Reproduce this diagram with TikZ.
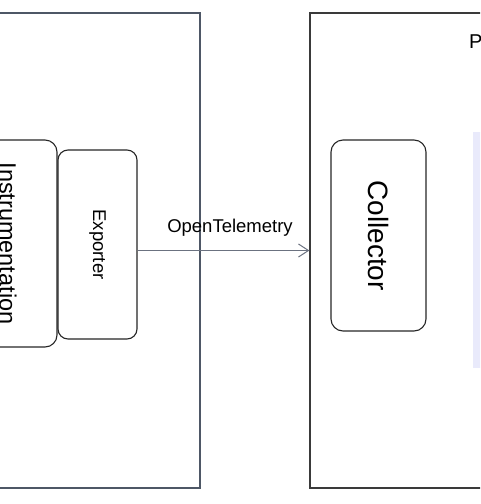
\documentclass[tikz,border=0pt]{standalone}
\usepackage{fontspec}
\setmainfont{Liberation Sans}
\usetikzlibrary{arrows.meta}
\definecolor{slate}{HTML}{4E5766}
\definecolor{dark}{HTML}{3A3A3A}
\definecolor{lav}{HTML}{E9EAFB}
\definecolor{arrgray}{HTML}{6B7280}
\tikzset{
  frame/.style={draw, line width=1.2pt, minimum width=#1},
  rbox/.style={draw=black!85, line width=1.1pt, rounded corners=12pt, inner sep=0pt},
  conn/.style={draw=arrgray, line width=1pt, -{Straight Barb[length=10pt,width=13pt,line width=1pt]}}
}
\begin{document}
\begin{tikzpicture}[x=1pt,y=-1pt]
\useasboundingbox (0,0) rectangle (480,504);
\clip (0,0) rectangle (480,504);
% big containers
\node[draw=slate, line width=1.2pt, minimum width=400pt, minimum height=475pt, inner sep=0pt] (lbox) at (0,250.5) {};
\node[draw=dark, line width=1.2pt, minimum width=380pt, minimum height=475pt, inner sep=0pt] (rbox) at (500,250.5) {};
% lavender panel
\node[fill=lav, minimum width=40pt, minimum height=236pt, inner sep=0pt, anchor=north west] (panel) at (473,132) {};
% title fragment
\node[anchor=base west, inner sep=0pt, font=\fontsize{20}{24}\selectfont] (ptitle) at (469,48) {P};
% inner boxes
\node[rbox, minimum width=98pt, minimum height=207pt] (inst) at (8,243.5)
  {\fontsize{23.5}{28}\selectfont\rotatebox{-90}{Instrumentation}};
\node[rbox, rounded corners=10pt, fill=white, minimum width=79pt, minimum height=189pt] (exp) at (97.5,244.5)
  {\fontsize{18.5}{22}\selectfont\rotatebox{-90}{Exporter}};
\node[rbox, minimum width=95pt, minimum height=191pt] (coll) at (378.5,235.5)
  {\fontsize{28}{33}\selectfont\rotatebox{-90}{Collector}};
% connector
\draw[conn] (exp.east |- rbox.west) -- (rbox.west)
  node[midway, anchor=south, inner sep=0pt, xshift=6.5pt, yshift=14pt, font=\fontsize{18.5}{22}\selectfont] (otel) {OpenTelemetry};
\end{tikzpicture}
\end{document}
